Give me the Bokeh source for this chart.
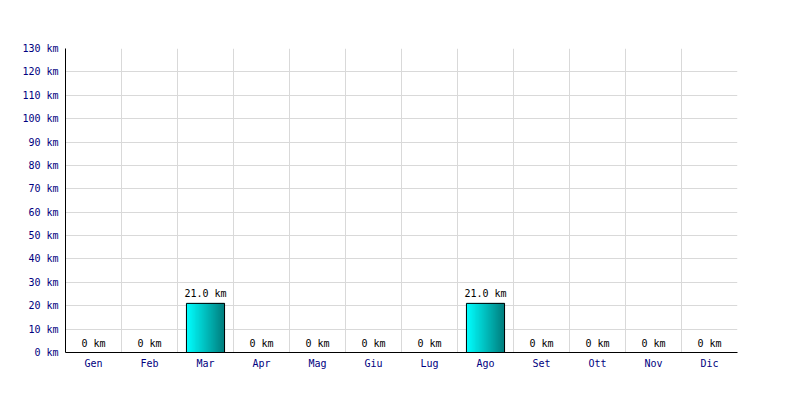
from bokeh.plotting import figure
from bokeh.models import FixedTicker, ColumnDataSource, Range1d
from bokeh.embed import file_html
from bokeh.resources import INLINE
from bokeh.core.properties import value

months = ["Gen", "Feb", "Mar", "Apr", "Mag", "Giu", "Lug", "Ago", "Set", "Ott", "Nov", "Dic"]
km = [0, 0, 21.0, 0, 0, 0, 0, 21.0, 0, 0, 0, 0]
bar_labels = ["0 km", "0 km", "21.0 km", "0 km", "0 km", "0 km", "0 km", "21.0 km", "0 km", "0 km", "0 km", "0 km"]
y_ticks = list(range(0, 131, 10))

FONT = "DejaVu Sans Mono"
BAR_W = 0.68
N = 38

p = figure(width=784, height=384, output_backend="svg", toolbar_location=None,
           x_range=Range1d(0, 12), y_range=Range1d(0, 130),
           min_border_left=65, min_border_right=47, min_border_top=48, min_border_bottom=32)
p.frame_width = 672
p.frame_height = 304
p.outline_line_color = None
p.background_fill_color = "white"
p.border_fill_color = "white"

# gradient bars built from slices
xs_l, xs_r, tops, cols = [], [], [], []
for i, v in enumerate(km):
    if v <= 0:
        continue
    left = i + 0.5 - BAR_W / 2
    for j in range(N):
        t = j / (N - 1)
        g = int(round(255 - t * (255 - 128)))
        xs_l.append(left + j * BAR_W / N)
        xs_r.append(left + (j + 1) * BAR_W / N)
        tops.append(v)
        cols.append("#%02x%02x%02x" % (0, g, g))
p.quad(left=xs_l, right=xs_r, bottom=0, top=tops, fill_color=cols, line_color=cols, line_width=1)

centers = [i + 0.5 for i in range(len(months))]
nz_c = [c for c, v in zip(centers, km) if v > 0]
nz_v = [v for v in km if v > 0]
p.vbar(x=nz_c, top=nz_v, width=BAR_W, bottom=0, fill_color=None, line_color="black", line_width=1)

src = ColumnDataSource(dict(x=centers, y=km, t=bar_labels))
p.text(x="x", y="y", text="t", source=src, text_align="center", text_baseline="bottom",
       y_offset=-4, text_font=value(FONT), text_font_size="10px", text_color="black")

p.xaxis.ticker = FixedTicker(ticks=centers)
p.xaxis.major_label_overrides = {c: m for c, m in zip(centers, months)}
p.yaxis.ticker = FixedTicker(ticks=y_ticks)
p.yaxis.major_label_overrides = {t: f"{t} km" for t in y_ticks}

for ax in (p.xaxis, p.yaxis):
    ax.major_tick_line_color = None
    ax.minor_tick_line_color = None
    ax.axis_line_color = "black"
    ax.axis_line_width = 1
    ax.major_label_text_font = FONT
    ax.major_label_text_font_size = "10px"
    ax.major_label_text_color = "#000080"
    ax.major_tick_out = 0
    ax.major_tick_in = 0
p.yaxis.major_label_standoff = 7
p.xaxis.major_label_standoff = 5

p.xgrid.ticker = FixedTicker(ticks=list(range(13)))
p.xgrid.grid_line_color = "#d9d9d9"
p.ygrid.grid_line_color = "#d9d9d9"

open("out.html", "w").write(file_html(p, INLINE))
